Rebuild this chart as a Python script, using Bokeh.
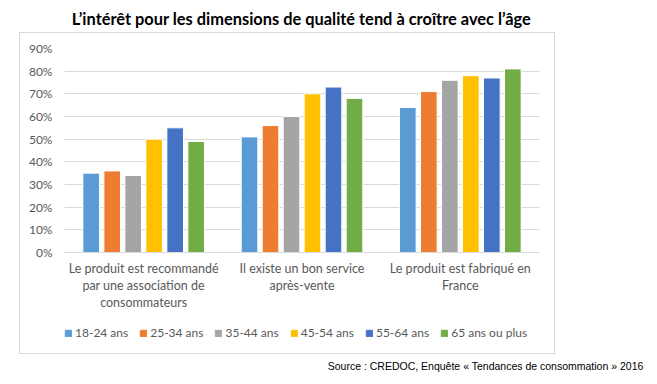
from bokeh.plotting import figure
from bokeh.layouts import column, row
from bokeh.models import (ColumnDataSource, FactorRange, Range1d, Label, Legend, LegendItem,
                          PrintfTickFormatter, FixedTicker, Spacer)
from bokeh.transform import dodge
from bokeh.embed import file_html
from bokeh.resources import INLINE

categories = ["Le produit est recommandé\npar une association de\nconsommateurs",
              "Il existe un bon service\naprès-vente",
              "Le produit est fabriqué en\nFrance"]
series_names = ["18-24 ans", "25-34 ans", "35-44 ans", "45-54 ans", "55-64 ans", "65 ans ou plus"]
v_18_24 = [35, 51, 64]
v_25_34 = [36, 56, 71]
v_35_44 = [34, 60, 76]
v_45_54 = [50, 70, 78]
v_55_64 = [55, 73, 77]
v_65_plus = [49, 68, 81]
y_ticks = [0, 10, 20, 30, 40, 50, 60, 70, 80, 90]
title_text = "L\u2019intérêt pour les dimensions de qualité tend à croître avec l\u2019âge"
source_text = "Source : CREDOC, Enquête « Tendances de consommation » 2016"

colors = ["#5B9BD5", "#ED7D31", "#A5A5A5", "#FFC000", "#4472C4", "#70AD47"]
series = [v_18_24, v_25_34, v_35_44, v_45_54, v_55_64, v_65_plus]

FONT = "Lato"
GRID = "#d9d9d9"
LABEL_C = "#595959"


def blank_fig(w, h, left=0, right=0):
    f = figure(width=w, height=h, x_range=Range1d(0, w), y_range=Range1d(0, h),
               output_backend="svg", toolbar_location=None,
               min_border=0, min_border_left=left, min_border_right=right,
               min_border_top=0, min_border_bottom=0)
    f.axis.visible = False
    f.grid.visible = False
    f.outline_line_color = None
    f.background_fill_color = "white"
    f.border_fill_color = "white"
    return f


# ---- title strip ----
TOP_W, TOP_H = 657, 32
p_title = blank_fig(TOP_W, TOP_H)
p_title.add_layout(Label(x=301, y=TOP_H - 18, text=title_text,
                         text_font=FONT, text_font_size="16.4px", text_font_style="bold",
                         text_color="#000000", text_align="center", text_baseline="middle"))

# ---- main chart ----
data = {"cat": categories}
for i, s in enumerate(series):
    data[f"s{i}"] = s
src = ColumnDataSource(data)

MW, MH = 534, 287
p = figure(width=MW, height=MH, x_range=FactorRange(*categories), y_range=Range1d(0, 90),
           output_backend="svg", toolbar_location=None,
           min_border_left=44, min_border_right=15, min_border_top=15, min_border_bottom=68)
p.outline_line_color = None
p.background_fill_color = "white"
p.border_fill_color = "white"

pitch = 0.1326
for i, s in enumerate(series):
    p.vbar(x=dodge("cat", (i - 2.5) * pitch, range=p.x_range), top=f"s{i}", width=0.105,
           source=src, fill_color=colors[i], line_color="white", line_width=1)

p.yaxis.ticker = FixedTicker(ticks=y_ticks)
p.yaxis.formatter = PrintfTickFormatter(format="%d%%")
p.yaxis.axis_line_color = None
p.yaxis.major_tick_line_color = None
p.yaxis.minor_tick_line_color = None
p.yaxis.major_label_text_font = FONT
p.yaxis.major_label_text_font_size = "12px"
p.yaxis.major_label_text_color = LABEL_C
p.yaxis.major_label_standoff = 6

p.xaxis.axis_line_color = GRID
p.xaxis.major_tick_line_color = None
p.xaxis.minor_tick_line_color = None
p.xaxis.major_label_text_font = FONT
p.xaxis.major_label_text_font_size = "12.5px"
p.xaxis.major_label_text_color = LABEL_C
p.xaxis.major_label_standoff = 2
p.xaxis.major_label_text_line_height = 1.15

p.xgrid.grid_line_color = None
p.ygrid.grid_line_color = GRID
p.ygrid.grid_line_width = 1

# ---- legend strip (inside the box, aligned with the chart frame) ----
LW, LH = 534, 33
p_leg = blank_fig(LW, LH, left=44, right=15)
leg_items = []
for i, n in enumerate(series_names):
    r = p_leg.vbar(x=[0], top=[0], width=0, fill_color=colors[i], line_color=colors[i])
    leg_items.append(LegendItem(label=n, renderers=[r]))
legend = Legend(items=leg_items, orientation="horizontal", location=(0, 13),
                glyph_width=8, glyph_height=8, label_standoff=3, spacing=11,
                padding=0, margin=0, border_line_color=None, background_fill_alpha=0,
                label_text_font=FONT, label_text_font_size="12px", label_text_color=LABEL_C,
                label_height=14)
p_leg.add_layout(legend, "center")

boxed = column(p, p_leg, spacing=0, styles={"border": "1px solid #d9d9d9"})

# ---- source strip ----
SW, SH = 657, 22
p_src = blank_fig(SW, SH)
p_src.add_layout(Label(x=643, y=SH - 11, text=source_text,
                       text_font="Liberation Sans", text_font_size="10.5px",
                       text_color="#000000", text_align="right", text_baseline="middle"))

page = column(p_title, row(Spacer(width=19), boxed, spacing=0), p_src, spacing=0)

open("out.html", "w").write(file_html(page, INLINE))
